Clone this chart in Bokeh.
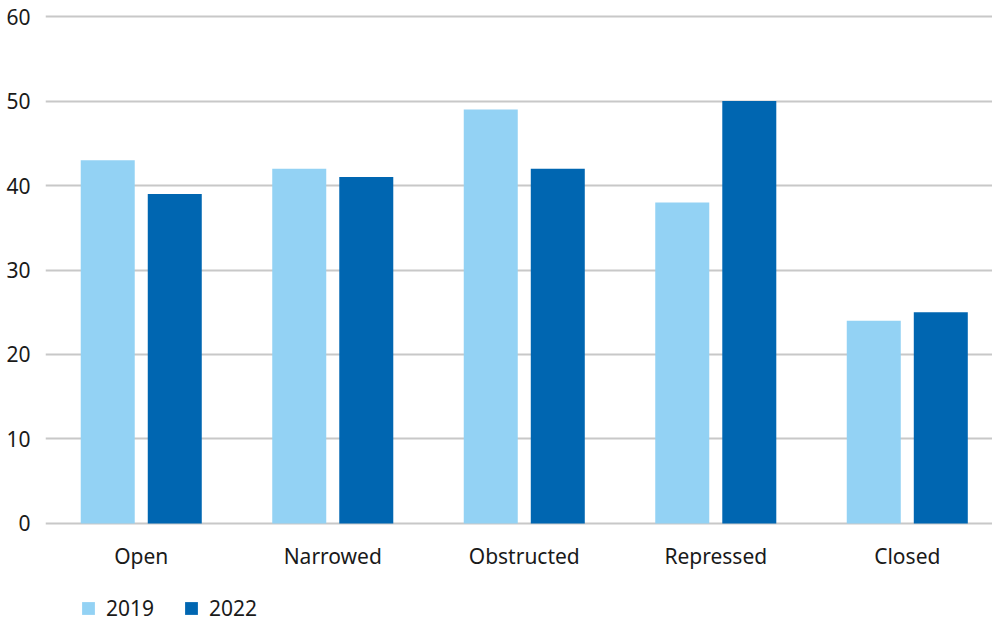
from bokeh.plotting import figure
from bokeh.layouts import column
from bokeh.models import Range1d, Legend, LegendItem, ColumnDataSource, FixedTicker
from bokeh.embed import file_html
from bokeh.resources import INLINE

categories = ["Open", "Narrowed", "Obstructed", "Repressed", "Closed"]
years = ["2019", "2022"]
values_2019 = [43, 42, 49, 38, 24]
values_2022 = [39, 41, 42, 50, 25]
y_ticks = [0, 10, 20, 30, 40, 50, 60]

LIGHT = "#93D2F4"
DARK = "#0066B1"
GRID = "#C8C8C8"
FONT = "Noto Sans"
TEXT = "#1a1a1a"

# category slots sit at 0.5, 1.5, ... ; the visible range stops a little short of
# the last slot's right edge so the plot bleeds to the right edge of the page
centers = [i + 0.5 for i in range(len(categories))]
BAR_W = 0.282
OFFSET = 0.175

source = ColumnDataSource(dict(
    x1=[c - OFFSET for c in centers], x2=[c + OFFSET for c in centers],
    v2019=values_2019, v2022=values_2022,
))

p = figure(
    x_range=Range1d(0, 4.945), y_range=Range1d(-0.25, 60.25),
    width=992, height=572, output_backend="svg", toolbar_location=None,
    min_border_left=45, min_border_right=0, min_border_top=14, min_border_bottom=46,
)
p.outline_line_color = None

p.vbar(x="x1", top="v2019", width=BAR_W, source=source, fill_color=LIGHT, line_color=None)
p.vbar(x="x2", top="v2022", width=BAR_W, source=source, fill_color=DARK, line_color=None)

p.xgrid.grid_line_color = None
p.ygrid.grid_line_color = GRID
p.ygrid.grid_line_width = 2
p.yaxis.ticker = FixedTicker(ticks=y_ticks)
p.xaxis.ticker = FixedTicker(ticks=centers)
p.xaxis.major_label_overrides = {c: name for c, name in zip(centers, categories)}

for ax in (p.xaxis[0], p.yaxis[0]):
    ax.axis_line_color = None
    ax.major_tick_line_color = None
    ax.minor_tick_line_color = None
    ax.major_label_text_font = FONT
    ax.major_label_text_font_size = "21px"
    ax.major_label_text_color = TEXT
p.yaxis.major_label_standoff = 9
p.xaxis.major_label_standoff = 10

# legend strip underneath the chart; its key renderers hold a zero-height bar
# outside the strip's range so only the legend swatches show
leg = figure(
    x_range=Range1d(0, 1), y_range=Range1d(0, 1),
    width=992, height=50, output_backend="svg", toolbar_location=None,
    x_axis_location=None, y_axis_location=None,
    min_border_left=0, min_border_right=0, min_border_top=0, min_border_bottom=0,
)
leg.outline_line_color = None
leg.grid.visible = False
key_src = ColumnDataSource(dict(x=[-5], top=[0]))
k1 = leg.vbar(x="x", top="top", width=0, source=key_src, fill_color=LIGHT, line_color=None)
k2 = leg.vbar(x="x", top="top", width=0, source=key_src, fill_color=DARK, line_color=None)

legend = Legend(
    items=[LegendItem(label=years[0], renderers=[k1]), LegendItem(label=years[1], renderers=[k2])],
    location=(35, 0), orientation="horizontal",
    glyph_width=16, glyph_height=16, label_standoff=10, spacing=29,
    padding=0, margin=0, border_line_color=None, background_fill_alpha=0,
    label_text_font=FONT, label_text_font_size="21px", label_text_color=TEXT,
)
leg.add_layout(legend, "center")

open("out.html", "w").write(file_html(column(p, leg, spacing=0), INLINE))
